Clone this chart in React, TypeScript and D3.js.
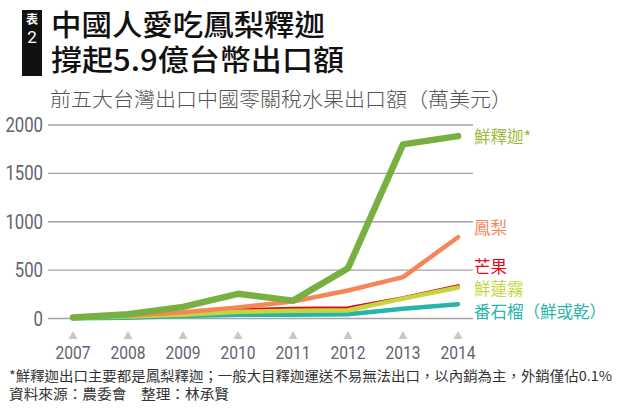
import React from 'react';
import * as d3 from 'd3';

// 前五大台灣出口中國零關稅水果出口額（萬美元）
const years = [2007, 2008, 2009, 2010, 2011, 2012, 2013, 2014];
const sugarApple = [10, 45, 120, 255, 185, 520, 1800, 1885];
const pineapple = [15, 30, 65, 115, 176, 290, 428, 840];
const mango = [10, 30, 60, 85, 100, 105, 210, 335];
const waxApple = [8, 20, 40, 70, 80, 85, 205, 320];
const guava = [3, 8, 25, 40, 40, 45, 100, 148];
const yTicks = [0, 500, 1000, 1500, 2000];

const seriesNames = ['番石榴（鮮或乾）', '芒果', '鮮蓮霧', '鳳梨', '鮮釋迦*'];
const seriesValues = [guava, mango, waxApple, pineapple, sugarApple];
const lineColors = ['#27b5aa', '#e3061d', '#c5d63c', '#f7855a', '#77b041'];
const labelColors = ['#27b5aa', '#e3061d', '#c8d648', '#f7855a', '#9bbb3c'];
const lineWidths = [4.5, 4, 4.5, 4.5, 6.5];
// label centre heights in data units, spread so they don't collide
const labelAt = [70, 530, 300, 940, 1880];

const footnote = '*鮮釋迦出口主要都是鳳梨釋迦；一般大目釋迦運送不易無法出口，以內銷為主，外銷僅佔0.1%';
const source = '資料來源：農委會　整理：林承賢';

const CJK = '"Noto Sans CJK TC", "Noto Sans", sans-serif';
const NUM = 'Roboto, "Liberation Sans", sans-serif';

const App = () => {
  const width = 620;
  const height = 410;

  const x = d3.scalePoint<number>().domain(years).range([73, 458]);
  const y = d3.scaleLinear().domain([0, 2000]).range([318.5, 125]);

  const line = d3.line<number>()
    .x((d, i) => x(years[i]) as number)
    .y((d) => y(d));

  return (
    <svg width={width} height={height} style={{ position: 'absolute', left: 0, top: 0, background: '#fff' }}>
      {/* title block */}
      <rect x={22} y={10} width={20} height={66} fill="#111" />
      <text x={32} y={24} fill="#fff" fontFamily={CJK} fontSize={12} fontWeight={700} textAnchor="middle">表</text>
      <text x={32} y={43} fill="#fff" fontFamily={NUM} fontSize={17} textAnchor="middle">2</text>
      <text x={51} y={36} fontFamily={CJK} fontSize={29} fontWeight={500} fill="#111" textLength={274} lengthAdjust="spacingAndGlyphs">中國人愛吃鳳梨釋迦</text>
      <text x={51} y={71} fontFamily={CJK} fontSize={29} fontWeight={500} fill="#111" textLength={293} lengthAdjust="spacingAndGlyphs">撐起5.9億台幣出口額</text>
      <text x={50} y={107} fontFamily={CJK} fontSize={20} fontWeight={300} fill="#555" textLength={462} lengthAdjust="spacingAndGlyphs">前五大台灣出口中國零關稅水果出口額（萬美元）</text>

      {/* grid + y axis */}
      {yTicks.map((t) => (
        <g key={t}>
          <line x1={48} x2={473} y1={y(t)} y2={y(t)} stroke="#a3a3a3" strokeWidth={1.3} />
          <text x={43} y={y(t) + 7} textAnchor="end" fontFamily={NUM} fontSize={20} fill="#5f6470"
            textLength={String(t).length * 9.4} lengthAdjust="spacingAndGlyphs">{t}</text>
        </g>
      ))}

      {/* x axis markers */}
      {years.map((yr) => {
        const cx = x(yr) as number;
        return (
          <g key={yr}>
            <path d={`M${cx - 4.5},339 L${cx + 4.5},339 L${cx},331 Z`} fill="#c8c8c8" />
            <text x={cx - 17.5} y={359} fontFamily={NUM} fontSize={19} fill="#5f6470"
              textLength={35} lengthAdjust="spacingAndGlyphs">{yr}</text>
          </g>
        );
      })}

      {/* series */}
      {seriesValues.map((vals, i) => (
        <path
          key={seriesNames[i]}
          d={line(vals) || ''}
          fill="none"
          stroke={lineColors[i]}
          strokeWidth={lineWidths[i]}
          strokeLinecap="round"
          strokeLinejoin="round"
        />
      ))}

      {seriesNames.map((name, i) => (
        <text key={name} x={474} y={y(labelAt[i]) + 6} fontFamily={CJK} fontSize={16.5} fill={labelColors[i]}>{name}</text>
      ))}

      {/* notes */}
      <text x={9} y={381} fontFamily={CJK} fontSize={13.5} fill="#333" textLength={603} lengthAdjust="spacingAndGlyphs">{footnote}</text>
      <text x={9} y={399} fontFamily={CJK} fontSize={13.5} fill="#333" textLength={220} lengthAdjust="spacingAndGlyphs">{source}</text>
    </svg>
  );
};

export default App;
